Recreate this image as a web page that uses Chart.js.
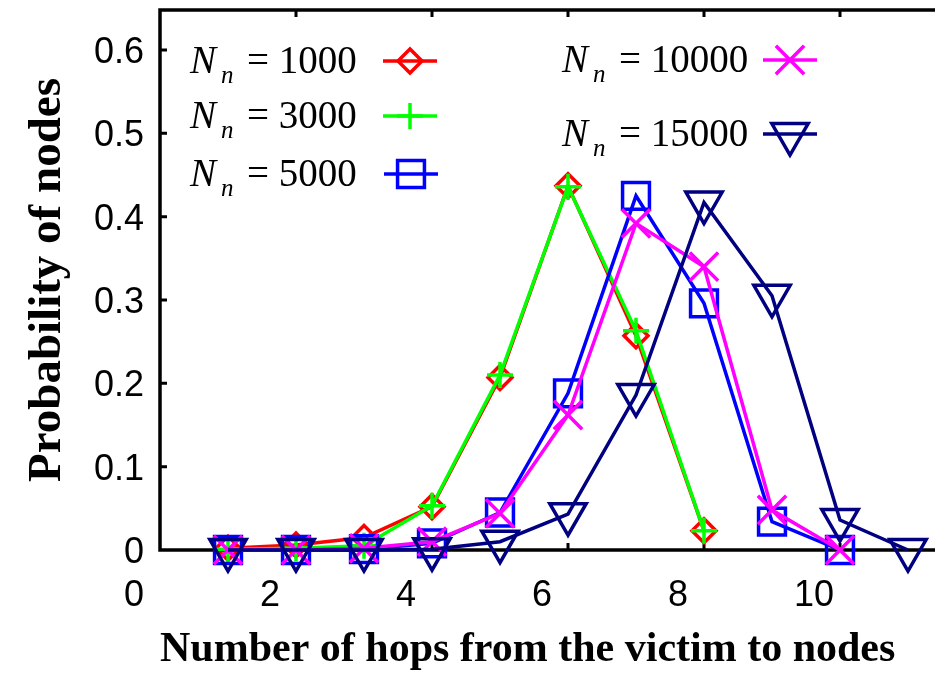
<!DOCTYPE html>
<html>
<head>
<meta charset="utf-8">
<script src="https://cdn.jsdelivr.net/npm/chart.js@4/dist/chart.umd.min.js"></script>
<style>
  body { margin: 0; background: #fff; }
  #wrap { width: 935px; height: 679px; overflow: hidden; }
</style>
</head>
<body>
<div id="wrap"><canvas id="js--chart" width="945" height="679"></canvas></div>
<script>
// data
const hops = [1, 2, 3, 4, 5, 6, 7, 8, 9, 10, 11];
const nodeCounts = [1000, 3000, 5000, 10000, 15000];

const prob1000 = [0.002, 0.006, 0.015, 0.052, 0.207, 0.437, 0.257, 0.023];
const prob3000 = [0.001, 0.002, 0.005, 0.053, 0.21, 0.436, 0.263, 0.023];
const prob5000 = [0.0, 0.0, 0.001, 0.008, 0.045, 0.188, 0.425, 0.296, 0.034, 0.0];
const prob10000 = [0.0, 0.0, 0.002, 0.01, 0.044, 0.162, 0.392, 0.34, 0.048, 0.0];
const prob15000 = [0.0, 0.0, 0.0, 0.001, 0.01, 0.043, 0.186, 0.417, 0.305, 0.036, 0.0];

const xTicks = [0, 2, 4, 6, 8, 10];
const yTicks = [0, 0.1, 0.2, 0.3, 0.4, 0.5, 0.6];

const colors = ["#ff0000", "#00ff00", "#0000ff", "#ff00ff", "#000080"];
const markers = [
  { style: "rectRot", radius: 12, rotation: 0 },
  { style: "cross", radius: 13, rotation: 0 },
  { style: "rect", radius: 19, rotation: 0 },
  { style: "crossRot", radius: 20, rotation: 0 },
  { style: "triangle", radius: 21, rotation: 180 },
];
const seriesValues = [prob1000, prob3000, prob5000, prob10000, prob15000];

function toPoints(values) {
  return values.map(function (v, i) {
    return { x: hops[i], y: v };
  });
}

const datasets = seriesValues.map(function (values, i) {
  return {
    label: "Nn = " + nodeCounts[i],
    data: toPoints(values),
    borderColor: colors[i],
    backgroundColor: "rgba(0,0,0,0)",
    borderWidth: 3.5,
    pointStyle: markers[i].style,
    pointRadius: markers[i].radius,
    pointRotation: markers[i].rotation,
    pointBorderWidth: 3.5,
    pointBorderColor: colors[i],
    pointBackgroundColor: "rgba(0,0,0,0)",
    tension: 0,
    clip: false,
    order: 5 - i,
  };
});

// legend slots (text x, text baseline, line start)
const legendSlots = [
  { x: 190, y: 73, lx: 383 },
  { x: 190, y: 128, lx: 383 },
  { x: 190, y: 186, lx: 384 },
  { x: 562, y: 72, lx: 763 },
  { x: 562, y: 146, lx: 763 },
];

// no automatic edge padding, the plot area is fixed by layout.padding
function noEdgePadding(scale) {
  scale.paddingTop = 0;
  scale.paddingBottom = 0;
  scale.paddingLeft = 0;
  scale.paddingRight = 0;
}

const framePlugin = {
  id: "frame",
  beforeDatasetsDraw: function (chart) {
    const ctx = chart.ctx;
    const a = chart.chartArea;
    const xs = chart.scales.x;
    const ys = chart.scales.y;
    ctx.save();
    ctx.strokeStyle = "#000";
    ctx.lineWidth = 3.5;
    ctx.strokeRect(a.left, a.top, a.right - a.left, a.bottom - a.top);
    ctx.lineWidth = 3;
    ctx.beginPath();
    xTicks.forEach(function (t) {
      if (t === 0) return;
      const px = xs.getPixelForValue(t);
      ctx.moveTo(px, a.top);
      ctx.lineTo(px, a.top + 7);
      ctx.moveTo(px, a.bottom);
      ctx.lineTo(px, a.bottom - 7);
    });
    yTicks.forEach(function (t) {
      if (t === 0) return;
      const py = ys.getPixelForValue(t);
      ctx.moveTo(a.left, py);
      ctx.lineTo(a.left + 7, py);
    });
    ctx.stroke();
    ctx.restore();
  },
  afterDraw: function (chart) {
    const ctx = chart.ctx;
    ctx.save();
    chart.data.datasets.forEach(function (ds, i) {
      const s = legendSlots[i];
      ctx.fillStyle = "#000";
      ctx.textBaseline = "alphabetic";
      ctx.textAlign = "left";
      ctx.font = "italic 39px 'Liberation Serif'";
      ctx.fillText("N", s.x, s.y);
      ctx.font = "italic 25px 'Liberation Serif'";
      ctx.fillText("n", s.x + 31, s.y + 10);
      ctx.font = "39px 'Liberation Serif'";
      ctx.fillText("= " + nodeCounts[i], s.x + 57, s.y);

      const ly = s.y - 12;
      ctx.strokeStyle = ds.borderColor;
      ctx.lineWidth = 3.5;
      ctx.beginPath();
      ctx.moveTo(s.lx, ly);
      ctx.lineTo(s.lx + 54, ly);
      ctx.stroke();
      ctx.fillStyle = "rgba(0,0,0,0)";
      Chart.helpers.drawPoint(ctx, {
        pointStyle: ds.pointStyle,
        radius: ds.pointRadius,
        rotation: ds.pointRotation,
        borderWidth: 3.5,
      }, s.lx + 27, ly);
    });
    ctx.restore();
  },
};

const config = {
  type: "line",
  data: { datasets: datasets },
  options: {
    responsive: false,
    animation: false,
    layout: { autoPadding: false, padding: { top: 10, right: 3, left: 0, bottom: 0 } },
    plugins: {
      legend: { display: false },
      tooltip: { enabled: false },
    },
    scales: {
      x: {
        type: "linear",
        min: 0,
        max: 11.5,
        afterFit: function (scale) {
          scale.height = 129;
          noEdgePadding(scale);
        },
        afterBuildTicks: function (scale) {
          scale.ticks = xTicks.map(function (v) {
            return { value: v };
          });
        },
        grid: { display: false, drawTicks: false },
        border: { display: false },
        ticks: {
          color: "#000",
          font: { family: "'Liberation Sans'", size: 36 },
          padding: 24,
          labelOffset: -26,
          maxRotation: 0,
        },
        title: {
          display: true,
          text: "Number of hops from the victim to nodes",
          align: "start",
          color: "#000",
          font: { family: "'Liberation Serif'", size: 42, weight: "bold" },
          padding: { top: 0, bottom: 4 },
        },
      },
      y: {
        min: 0,
        max: 0.648,
        afterFit: function (scale) {
          scale.width = 160;
          noEdgePadding(scale);
        },
        afterBuildTicks: function (scale) {
          scale.ticks = yTicks.map(function (v) {
            return { value: v };
          });
        },
        grid: { display: false, drawTicks: false },
        border: { display: false },
        ticks: {
          color: "#000",
          font: { family: "'Liberation Sans'", size: 36 },
          padding: 16,
          labelOffset: 3,
        },
        title: {
          display: true,
          text: "Probability of nodes",
          color: "#000",
          font: { family: "'Liberation Serif'", size: 47, weight: "bold" },
          padding: { top: 20, bottom: 0 },
        },
      },
    },
  },
  plugins: [framePlugin],
};

new Chart(document.getElementById("js--chart"), config);
</script>
</body>
</html>
